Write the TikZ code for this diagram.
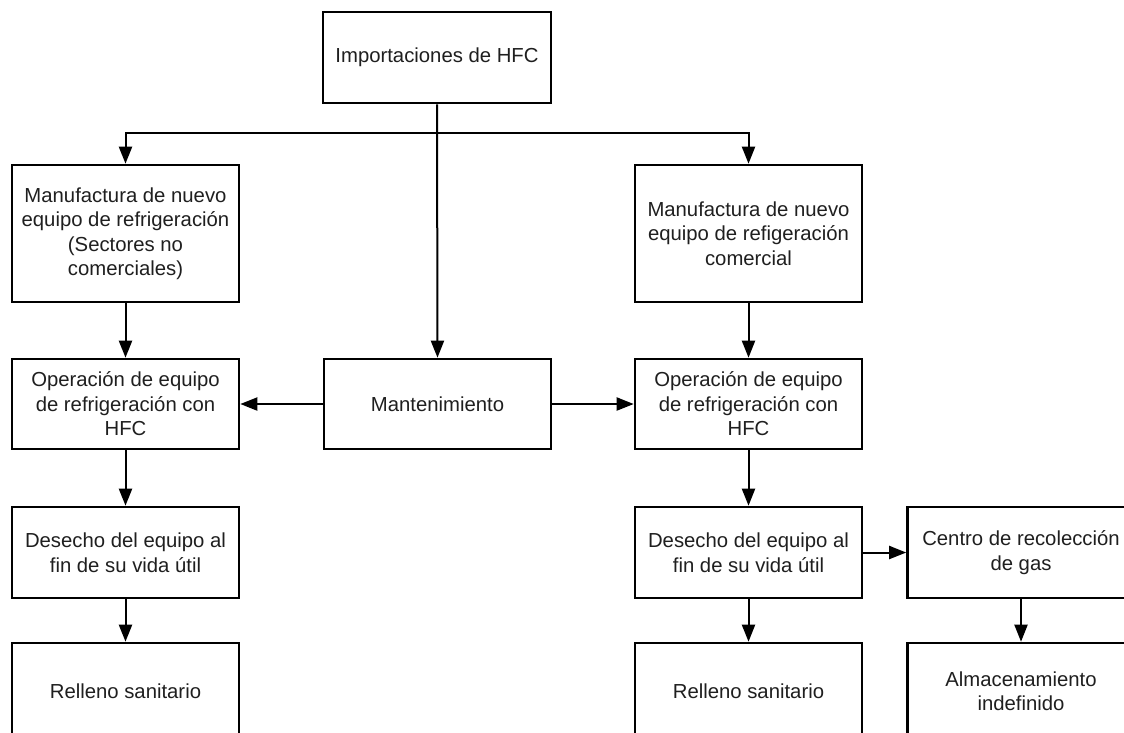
\documentclass[tikz,border=0pt]{standalone}
\usepackage{fontspec}
\setmainfont{Liberation Sans}
\usetikzlibrary{arrows.meta}
\tikzset{
  box/.style={draw=black, line width=2.6pt, minimum width=227pt, align=center, inner sep=2pt,
    text=black!88, font=\fontsize{20.3}{24.5}\selectfont},
  arr/.style={draw=black, line width=2pt, -{Triangle[length=17pt,width=13pt]}},
  ln/.style={draw=black, line width=2pt}
}
\begin{document}
\begin{tikzpicture}[x=1pt,y=-1pt]
\clip (0,0) rectangle (1124,732);
\fill[white] (0,0) rectangle (1124,732);
\node[box, minimum height=91pt, minimum width=228pt] (imp) at (437,57.5) {Importaciones de HFC};
\node[box, minimum height=137pt] (lm) at (125.5,233.5) {Manufactura de nuevo\\equipo de refrigeración\\(Sectores no\\comerciales)};
\node[box, minimum height=137pt] (rm) at (748.5,233.5) {Manufactura de nuevo\\equipo de refigeración\\comercial};
\node[box, minimum height=90pt] (lo) at (125.5,404) {Operación de equipo\\de refrigeración con\\HFC};
\node[box, minimum height=90pt] (mant) at (437.5,404) {Mantenimiento};
\node[box, minimum height=90pt] (ro) at (748.5,404) {Operación de equipo\\de refrigeración con\\HFC};
\node[box, minimum height=91pt] (ld) at (125.5,552.5) {Desecho del equipo al\\fin de su vida útil};
\node[box, minimum height=91pt] (rd) at (748.5,552.5) {Desecho del equipo al\\fin de su vida útil};
\node[box, minimum height=91pt] (cen) at (1021,552.5) {Centro de recolección\\de gas};
\node[box, minimum height=96pt] (lr) at (125.5,691) {Relleno sanitario};
\node[box, minimum height=96pt] (rr) at (748.5,691) {Relleno sanitario};
\node[box, minimum height=96pt] (alm) at (1021,691) {Almacenamiento\\indefinido};
\coordinate (j) at (437.5,133);
\draw[arr] (imp.south) -- (mant.north);
\draw[arr] (j) -| (lm.north);
\draw[arr] (j) -| (rm.north);
\draw[arr] (lm) -- (lo);
\draw[arr] (rm) -- (ro);
\draw[arr] (mant) -- (lo);
\draw[arr] (mant) -- (ro);
\draw[arr] (lo) -- (ld);
\draw[arr] (ro) -- (rd);
\draw[arr] (ld) -- (lr);
\draw[arr] (rd) -- (rr);
\draw[arr] (rd) -- (cen);
\draw[arr] (cen) -- (alm);
\end{tikzpicture}
\end{document}
